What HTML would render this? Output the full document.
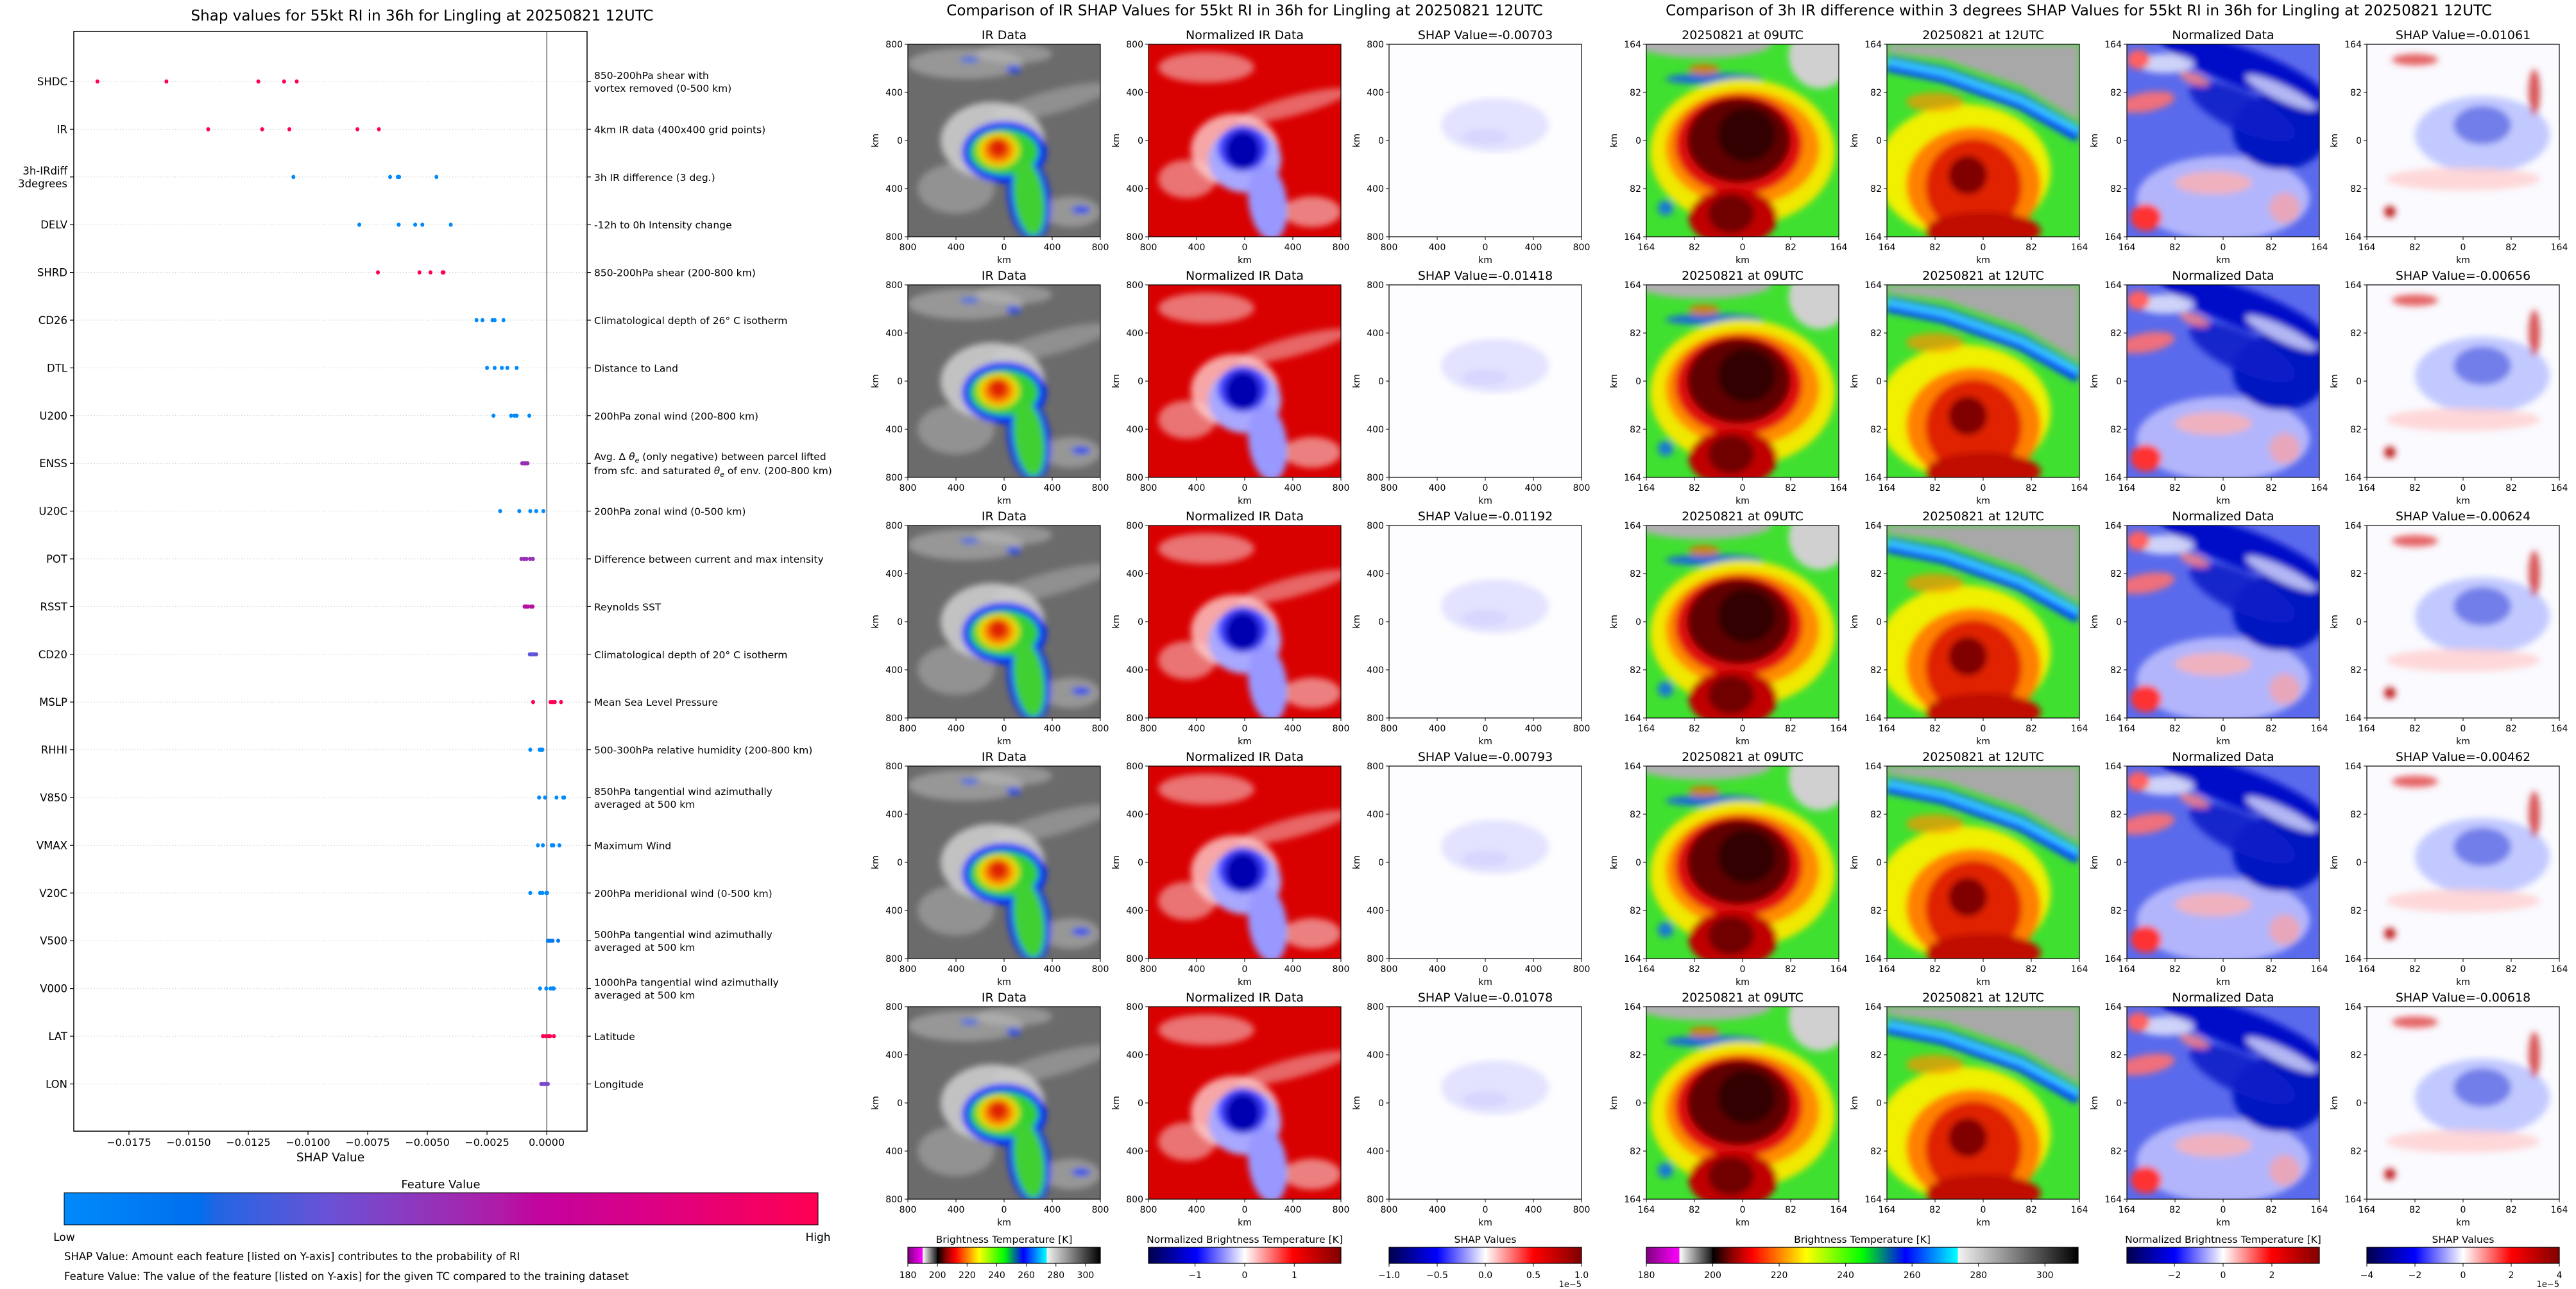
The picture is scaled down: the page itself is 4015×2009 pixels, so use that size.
<!DOCTYPE html>
<html><head><meta charset="utf-8">
<style>
body{margin:0;background:#fff}
svg{display:block}
text{font-family:"DejaVu Sans","Liberation Sans",sans-serif;fill:#000}
</style></head>
<body>
<svg id="fig" width="4015" height="2009" viewBox="0 0 4015 2009" xmlns="http://www.w3.org/2000/svg">
<defs>
<filter id="blur" x="-5%" y="-5%" width="110%" height="110%"><feGaussianBlur stdDeviation="5"/></filter>
<linearGradient id="g-feature" x1="0" x2="1" y1="0" y2="0">
<stop offset="0" stop-color="#008afb"/><stop offset="0.18" stop-color="#006fee"/><stop offset="0.2" stop-color="#2066e4"/><stop offset="0.35" stop-color="#6a52d6"/><stop offset="0.5" stop-color="#9830b6"/><stop offset="0.58" stop-color="#b01aa6"/><stop offset="0.63" stop-color="#c2039e"/><stop offset="0.78" stop-color="#dc0084"/><stop offset="1" stop-color="#ff0052"/>
</linearGradient>
<linearGradient id="g-ir" x1="0" x2="1" y1="0" y2="0">
<stop offset="0" stop-color="#800080"/><stop offset="0.076" stop-color="#ff00ff"/><stop offset="0.077" stop-color="#ffffff"/><stop offset="0.15" stop-color="#202020"/><stop offset="0.154" stop-color="#000000"/><stop offset="0.2" stop-color="#900000"/><stop offset="0.246" stop-color="#ff0000"/><stop offset="0.308" stop-color="#ff8000"/><stop offset="0.37" stop-color="#ffff00"/><stop offset="0.5" stop-color="#00ff00"/><stop offset="0.6" stop-color="#0000ff"/><stop offset="0.72" stop-color="#00ffff"/><stop offset="0.723" stop-color="#f2f2f2"/><stop offset="1" stop-color="#000000"/>
</linearGradient>
<linearGradient id="g-seismic" x1="0" x2="1" y1="0" y2="0">
<stop offset="0" stop-color="#00004c"/><stop offset="0.25" stop-color="#0000ff"/><stop offset="0.5" stop-color="#ffffff"/><stop offset="0.75" stop-color="#ff0000"/><stop offset="1" stop-color="#800000"/>
</linearGradient>
</defs>
<g id="shap-chart"></g>
<g id="panels"></g>
</svg>
<script>
// ---------------- chart data ----------------
const features = ['SHDC','IR','3h-IRdiff|3degrees','DELV','SHRD','CD26','DTL','U200','ENSS','U20C','POT','RSST','CD20','MSLP','RHHI','V850','VMAX','V20C','V500','V000','LAT','LON'];
const descriptions = [
 ['850-200hPa shear with','vortex removed (0-500 km)'],
 ['4km IR data (400x400 grid points)'],
 ['3h IR difference (3 deg.)'],
 ['-12h to 0h Intensity change'],
 ['850-200hPa shear (200-800 km)'],
 ['Climatological depth of 26° C isotherm'],
 ['Distance to Land'],
 ['200hPa zonal wind (200-800 km)'],
 ['ENSS'],
 ['200hPa zonal wind (0-500 km)'],
 ['Difference between current and max intensity'],
 ['Reynolds SST'],
 ['Climatological depth of 20° C isotherm'],
 ['Mean Sea Level Pressure'],
 ['500-300hPa relative humidity (200-800 km)'],
 ['850hPa tangential wind azimuthally','averaged at 500 km'],
 ['Maximum Wind'],
 ['200hPa meridional wind (0-500 km)'],
 ['500hPa tangential wind azimuthally','averaged at 500 km'],
 ['1000hPa tangential wind azimuthally','averaged at 500 km'],
 ['Latitude'],
 ['Longitude']
];
const irShap = [-0.00703,-0.01418,-0.01192,-0.00793,-0.01078];
const irdiffShap = [-0.01061,-0.00656,-0.00624,-0.00462,-0.00618];
const shdcShap = [-0.01882,-0.01593,-0.01208,-0.01100,-0.01047];
const delvShap = [-0.00785,-0.00620,-0.00551,-0.00521,-0.00402];
const shrdShap = [-0.00707,-0.00533,-0.00487,-0.00436,-0.00432];
const cd26Shap = [-0.00294,-0.00269,-0.00227,-0.00218,-0.00181];
const dtlShap = [-0.00250,-0.00218,-0.00188,-0.00165,-0.00126];
const u200Shap = [-0.00223,-0.00149,-0.00135,-0.00126,-0.00073];
const enssShap = [-0.00103,-0.00096,-0.00091,-0.00087,-0.00080];
const u20cShap = [-0.00195,-0.00115,-0.00069,-0.00044,-0.00014];
const potShap = [-0.00106,-0.00095,-0.00085,-0.00070,-0.00058];
const rsstShap = [-0.00093,-0.00085,-0.00078,-0.00066,-0.00059];
const cd20Shap = [-0.00071,-0.00064,-0.00057,-0.00050,-0.00044];
const mslpShap = [-0.00057,0.00016,0.00025,0.00034,0.00060];
const rhhiShap = [-0.00069,-0.00030,-0.00025,-0.00021,-0.00018];
const v850Shap = [-0.00032,-0.00007,0.00041,0.00069,0.00073];
const vmaxShap = [-0.00037,-0.00016,0.00021,0.00028,0.00053];
const v20cShap = [-0.00069,-0.00028,-0.00018,-0.00002,0.00002];
const v500Shap = [0.00005,0.00011,0.00018,0.00025,0.00048];
const v000Shap = [-0.00028,-0.00002,0.00016,0.00025,0.00030];
const latShap = [-0.00016,-0.00005,0.00007,0.00014,0.00030];
const lonShap = [-0.00023,-0.00016,-0.00009,-0.00002,0.00005];
const shapByFeature = [shdcShap,irShap,irdiffShap,delvShap,shrdShap,cd26Shap,dtlShap,u200Shap,enssShap,u20cShap,potShap,rsstShap,cd20Shap,mslpShap,rhhiShap,v850Shap,vmaxShap,v20cShap,v500Shap,v000Shap,latShap,lonShap];
const featureValues = [1,1,0,0,1,0,0,0,0.5,0,0.5,0.6,0.33,1,0,0,0,0,0.1,0,1,0.4];
const xTickValues = [-0.0175,-0.015,-0.0125,-0.01,-0.0075,-0.005,-0.0025,0];
const xTickLabels = ['\u22120.0175','\u22120.0150','\u22120.0125','\u22120.0100','\u22120.0075','\u22120.0050','\u22120.0025','0.0000'];
const xDomain = [-0.01981,0.00169];

// ---------------- helpers ----------------
const NS='http://www.w3.org/2000/svg';
function el(tag,parent,attrs){const e=document.createElementNS(NS,tag);for(const k in attrs)e.setAttribute(k,attrs[k]);parent.appendChild(e);return e;}
const PL=115,PR=915,PT=49,PB=1763;
function xScale(v){return PL+(v-xDomain[0])/(xDomain[1]-xDomain[0])*(PR-PL);}
function yScale(i){return 127+i*74.4;}
const cmapStops=[[0,[0,138,251]],[0.18,[0,111,238]],[0.2,[32,102,228]],[0.35,[106,82,214]],[0.5,[152,48,182]],[0.58,[176,26,166]],[0.63,[194,3,158]],[0.78,[220,0,132]],[1,[255,0,82]]];
function cmap(t){for(let i=1;i<cmapStops.length;i++){if(t<=cmapStops[i][0]){const a=cmapStops[i-1],b=cmapStops[i];const f=(t-a[0])/(b[0]-a[0]);const c=a[1].map((v,k)=>Math.round(v+(b[1][k]-v)*f));return 'rgb('+c.join(',')+')';}}return 'rgb(255,0,82)';}

// ---------------- left chart ----------------
const chart=document.getElementById('shap-chart');
const title=el('text',chart,{x:658,y:32,'text-anchor':'middle','font-size':23});


title.textContent='Shap values for 55kt RI in 36h for Lingling at 20250821 12UTC';

features.forEach((f,i)=>{
  const y=yScale(i);
  const grid=el('line',chart,{x1:PL,x2:PR,y1:y,y2:y,stroke:'#cccccc','stroke-width':1,'stroke-dasharray':'1.5,3'});
  
  
});
const zero=el('line',chart,{x1:xScale(0),x2:xScale(0),y1:PT,y2:PB,stroke:'#999999','stroke-width':2});


const frame=el('rect',chart,{x:PL,y:PT,width:PR-PL,height:PB-PT,fill:'none',stroke:'#000','stroke-width':1.5});



features.forEach((f,i)=>{
  const y=yScale(i);
  const tl=el('line',chart,{x1:PL-6,x2:PL,y1:y,y2:y,stroke:'#000','stroke-width':1.2});
  
  
  const tr=el('line',chart,{x1:PR,x2:PR+6,y1:y,y2:y,stroke:'#000','stroke-width':1.2});
  
  
  const lines=f.split('|');
  const lab=el('text',chart,{x:105,y:y+6-(lines.length-1)*10,'text-anchor':'end','font-size':16.5});
  
  
  lines.forEach((ln,k)=>{const ts=el('tspan',lab,{x:105,dy:k?20:0});ts.textContent=ln;});
  const d=descriptions[i];
  const dl=el('text',chart,{x:926,y:y+6-(d.length-1)*10,'font-size':15.5});
  
  
  if(f==='ENSS'){
    dl.setAttribute('y',y-5);
    dl.innerHTML='<tspan x="926">Avg. \u0394 <tspan font-style="italic">\u03b8</tspan><tspan font-size="11" dy="4" font-style="italic">e</tspan><tspan dy="-4"> (only negative) between parcel lifted</tspan></tspan><tspan x="926" dy="22">from sfc. and saturated <tspan font-style="italic">\u03b8</tspan><tspan font-size="11" dy="4" font-style="italic">e</tspan><tspan dy="-4"> of env. (200-800 km)</tspan></tspan>';
  } else {
    d.forEach((ln,k)=>{const ts=el('tspan',dl,{x:926,dy:k?20:0});ts.textContent=ln;});
  }
  const color=cmap(featureValues[i]);
  shapByFeature[i].forEach(v=>{
    const dot=el('ellipse',chart,{cx:xScale(v),cy:y,rx:3,ry:3.3,fill:color});
    
    
  });
});
xTickValues.forEach((v,i)=>{
  const x=xScale(v);
  const t=el('line',chart,{x1:x,x2:x,y1:PB,y2:PB+6,stroke:'#000','stroke-width':1.2});
  
  
  const l=el('text',chart,{x:x,y:1786,'text-anchor':'middle','font-size':16});
  
  
  l.textContent=xTickLabels[i];
});
const xt=el('text',chart,{x:515,y:1810,'text-anchor':'middle','font-size':18.5});


xt.textContent='SHAP Value';
const fvt=el('text',chart,{x:687,y:1852,'text-anchor':'middle','font-size':18});


fvt.textContent='Feature Value';
const fcb=el('rect',chart,{x:100,y:1859,width:1175,height:50,fill:'url(#g-feature)',stroke:'#000','stroke-width':1});


const low=el('text',chart,{x:100,y:1934,'text-anchor':'middle','font-size':17});


low.textContent='Low';
const high=el('text',chart,{x:1275,y:1934,'text-anchor':'middle','font-size':17});


high.textContent='High';
const n1=el('text',chart,{x:100,y:1964,'font-size':16.5});


n1.textContent='SHAP Value: Amount each feature [listed on Y-axis] contributes to the probability of RI';
const n2=el('text',chart,{x:100,y:1995,'font-size':16.5});


n2.textContent='Feature Value: The value of the feature [listed on Y-axis] for the given TC compared to the training dataset';

// ---------------- image panels ----------------
const panels=document.getElementById('panels');
const rowsY=[69,444,819,1194,1569];
const S=300;
const midX=[1415,1790,2165];
const rightX=[2566,2941,3315,3689];
const blobs={
 ir:{bg:'#6b6b6b',b:[[0.3,0.1,0.3,0.08,'#b4b4b4',0.6,0],[0.55,0.05,0.2,0.05,'#c0c0c0',0.5,0],[0.75,0.3,0.32,0.06,'#a8a8a8',0.6,-15],[0.25,0.75,0.2,0.13,'#acacac',0.6,0],[0.85,0.87,0.15,0.08,'#b4b4b4',0.6,0],[0.32,0.08,0.05,0.015,'#2060ff',0.8,0],[0.55,0.13,0.04,0.02,'#1040ff',0.8,0],[0.9,0.86,0.05,0.02,'#0040ff',0.9,0],[0.44,0.5,0.27,0.2,'#d8d8d8',0.8,0],[0.5,0.56,0.22,0.16,'#0028ff',1,0],[0.63,0.8,0.11,0.22,'#0028ff',1,-8],[0.5,0.56,0.18,0.12,'#30d030',1,0],[0.63,0.8,0.08,0.2,'#40d030',1,-8],[0.47,0.55,0.11,0.09,'#e8e000',1,0],[0.47,0.55,0.08,0.07,'#ff8000',1,0],[0.47,0.54,0.05,0.05,'#e02000',1,0]]},
 nir:{bg:'#d90000',b:[[0.3,0.12,0.25,0.08,'#ffffff',0.45,0],[0.75,0.32,0.3,0.05,'#ffffff',0.4,-15],[0.2,0.7,0.15,0.1,'#ffffff',0.45,0],[0.85,0.87,0.15,0.08,'#ffffff',0.5,0],[0.45,0.55,0.23,0.19,'#ffd0d0',0.8,0],[0.5,0.6,0.19,0.17,'#a8a8ff',1,0],[0.62,0.82,0.1,0.2,'#9898ff',1,-8],[0.49,0.54,0.13,0.12,'#4040ff',1,0],[0.49,0.55,0.09,0.1,'#0000b0',1,0]]},
 sh:{bg:'#fdfdff',b:[[0.55,0.42,0.28,0.14,'#dcdcff',0.8,0],[0.5,0.48,0.12,0.04,'#cfcfff',0.6,0]]},
 t09:{bg:'#40e030',b:[[0.3,0.0,0.35,0.07,'#b0b0b0',1,0],[0.9,0.06,0.16,0.17,'#d0d0d0',1,0],[0.35,0.18,0.25,0.03,'#1050ff',0.8,0],[0.5,0.56,0.48,0.38,'#f0e800',1,0],[0.5,0.54,0.4,0.3,'#ff8c00',1,0],[0.48,0.52,0.33,0.26,'#e01010',1,0],[0.48,0.5,0.27,0.22,'#600000',1,0],[0.52,0.47,0.15,0.14,'#300000',1,0],[0.45,0.9,0.23,0.15,'#c00000',1,0],[0.44,0.88,0.12,0.1,'#700000',1,0],[0.3,0.13,0.08,0.03,'#ff6000',0.7,0],[0.1,0.85,0.04,0.04,'#1060ff',0.8,0]]},
 t12:{bg:'#40e030',b:[[0.4,0.66,0.45,0.35,'#f0f000',1,0],[0.45,0.73,0.35,0.3,'#ff8000',1,0],[0.45,0.74,0.25,0.25,'#e02000',1,0],[0.42,0.68,0.1,0.1,'#800000',1,0],[0.5,0.97,0.3,0.1,'#c01000',1,0],[0.25,0.3,0.15,0.05,'#ff9000',0.7,0]],poly:true},
 nd:{bg:'#5a6aec',b:[[0.5,0.8,0.45,0.22,'#c8c8ff',0.8,0],[0.6,0.12,0.45,0.1,'#0010c8',1,20],[0.8,0.45,0.25,0.2,'#0018c0',1,0],[0.6,0.35,0.3,0.1,'#0820c8',0.9,25],[0.2,0.1,0.15,0.05,'#ffffff',0.7,0],[0.8,0.25,0.2,0.04,'#e0e0ff',0.8,25],[0.06,0.08,0.06,0.05,'#ff6060',1,0],[0.35,0.18,0.08,0.03,'#ff8080',0.8,20],[0.1,0.3,0.15,0.05,'#ff7070',0.9,-10],[0.45,0.72,0.2,0.06,'#ffb0b0',0.8,0],[0.1,0.9,0.08,0.07,'#ff3030',1,0],[0.82,0.85,0.08,0.08,'#ffa0a0',0.7,0]]},
 s2:{bg:'#fafaff',b:[[0.6,0.47,0.35,0.2,'#bcc4ff',0.9,0],[0.6,0.42,0.15,0.1,'#5060e0',0.7,0],[0.25,0.08,0.12,0.03,'#e04040',0.8,0],[0.87,0.25,0.03,0.12,'#d03030',0.8,0],[0.5,0.7,0.4,0.06,'#ffd0d0',0.8,0],[0.12,0.87,0.03,0.03,'#c02020',1,0]]}
};
let clipId=0;
function drawImage(g,type,x,y){
  const spec=blobs[type];
  const cid='clip'+(clipId++);
  const cp=el('clipPath',g,{id:cid});
  el('rect',cp,{x:x,y:y,width:S,height:S});
  const img=el('g',g,{'clip-path':'url(#'+cid+')'});
  
  
  el('rect',img,{x:x,y:y,width:S,height:S,fill:spec.bg});
  const bl=el('g',img,{filter:'url(#blur)'});
  if(spec.poly){
    el('polygon',bl,{points:[[0,0],[1,0],[1,0.4],[0.7,0.22],[0.3,0.08],[0,0.04]].map(p=>(x+p[0]*S)+','+(y+p[1]*S)).join(' '),fill:'#a8a8a8'});
    el('polyline',bl,{points:[[0,0.1],[0.3,0.16],[0.7,0.3],[1,0.47]].map(p=>(x+p[0]*S)+','+(y+p[1]*S)).join(' '),fill:'none',stroke:'#0040ff','stroke-width':24});
    el('polyline',bl,{points:[[0,0.09],[0.3,0.15],[0.7,0.29],[1,0.45]].map(p=>(x+p[0]*S)+','+(y+p[1]*S)).join(' '),fill:'none',stroke:'#40e0ff','stroke-width':8});
  }
  spec.b.forEach(b=>{
    const cx=x+b[0]*S,cy=y+b[1]*S;
    el('ellipse',bl,{cx:cx,cy:cy,rx:b[2]*S,ry:b[3]*S,fill:b[4],'fill-opacity':b[5],transform:'rotate('+b[6]+' '+cx+' '+cy+')'});
  });
}
function drawAxes(g,x,y,labels,title){
  const fr=el('rect',g,{x:x,y:y,width:S,height:S,fill:'none',stroke:'#000','stroke-width':1.2});
  
  
  labels.forEach((lb,k)=>{
    const px=x+k*S/4, py=y+k*S/4;
    el('line',g,{x1:px,x2:px,y1:y+S,y2:y+S+5,stroke:'#000','stroke-width':1});
    el('line',g,{x1:x-5,x2:x,y1:py,y2:py,stroke:'#000','stroke-width':1});
    const xl=el('text',g,{x:px,y:y+S+21,'text-anchor':'middle','font-size':14});
    
    
    xl.textContent=lb;
    const yl=el('text',g,{x:x-8,y:py+5,'text-anchor':'end','font-size':14});
    
    
    yl.textContent=lb;
  });
  const xk=el('text',g,{x:x+S/2,y:y+S+41,'text-anchor':'middle','font-size':14});
  
  
  xk.textContent='km';
  const yk=el('text',g,{x:x-46,y:y+S/2,'text-anchor':'middle','font-size':14,transform:'rotate(-90 '+(x-46)+' '+(y+S/2)+')'});
  
  
  yk.textContent='km';
  const tt=el('text',g,{x:x+S/2,y:y-8,'text-anchor':'middle','font-size':19});
  
  
  tt.textContent=title;
}
const mt=el('text',panels,{x:1940,y:24,'text-anchor':'middle','font-size':23});


mt.textContent='Comparison of IR SHAP Values for 55kt RI in 36h for Lingling at 20250821 12UTC';
const rt=el('text',panels,{x:3240,y:24,'text-anchor':'middle','font-size':23});


rt.textContent='Comparison of 3h IR difference within 3 degrees SHAP Values for 55kt RI in 36h for Lingling at 20250821 12UTC';
const kmLab=['800','400','0','400','800'];
const smLab=['164','82','0','82','164'];
rowsY.forEach((y,r)=>{
  const midTypes=['ir','nir','sh'];
  const midTitles=['IR Data','Normalized IR Data','SHAP Value='+irShap[r]];
  midX.forEach((x,c)=>{
    const g=el('g',panels,{});
    
    
    drawImage(g,midTypes[c],x,y);
    drawAxes(g,x,y,kmLab,midTitles[c]);
  });
  const rTypes=['t09','t12','nd','s2'];
  const rTitles=['20250821 at 09UTC','20250821 at 12UTC','Normalized Data','SHAP Value='+irdiffShap[r]];
  rightX.forEach((x,c)=>{
    const g=el('g',panels,{});
    
    
    drawImage(g,rTypes[c],x,y);
    drawAxes(g,x,y,smLab,rTitles[c]);
  });
});
// colorbars
const cbY=1944,cbH=25;
function colorbar(x,w,grad,title,ticks,tickPos,exp){
  const g=el('g',panels,{});
  
  
  const t=el('text',g,{x:x+w/2,y:cbY-7,'text-anchor':'middle','font-size':15.5});
  
  
  t.textContent=title;
  const r=el('rect',g,{x:x,y:cbY,width:w,height:cbH,fill:'url(#'+grad+')',stroke:'#000','stroke-width':1.2});
  
  
  ticks.forEach((tk,i)=>{
    const px=x+tickPos[i]*w;
    el('line',g,{x1:px,x2:px,y1:cbY+cbH,y2:cbY+cbH+5,stroke:'#000','stroke-width':1});
    const l=el('text',g,{x:px,y:cbY+cbH+23,'text-anchor':'middle','font-size':14});
    
    
    l.textContent=tk;
  });
  if(exp){
    const e=el('text',g,{x:x+w,y:2006,'text-anchor':'end','font-size':13});
    
    
    e.textContent='1e\u22125';
  }
}
const irTicks=['180','200','220','240','260','280','300'];
const irPos=irTicks.map(v=>(+v-180)/130);
colorbar(1415,300,'g-ir','Brightness Temperature [K]',irTicks,irPos,false);
colorbar(1790,300,'g-seismic','Normalized Brightness Temperature [K]',['\u22121','0','1'],[0.5-1/3.88,0.5,0.5+1/3.88],false);
colorbar(2165,300,'g-seismic','SHAP Values',['\u22121.0','\u22120.5','0.0','0.5','1.0'],[0,0.25,0.5,0.75,1],true);
colorbar(2566,673,'g-ir','Brightness Temperature [K]',irTicks,irPos,false);
colorbar(3315,300,'g-seismic','Normalized Brightness Temperature [K]',['\u22122','0','2'],[0.5-2/7.9,0.5,0.5+2/7.9],false);
colorbar(3689,300,'g-seismic','SHAP Values',['\u22124','\u22122','0','2','4'],[0,0.25,0.5,0.75,1],true);
</script>
</body></html>
